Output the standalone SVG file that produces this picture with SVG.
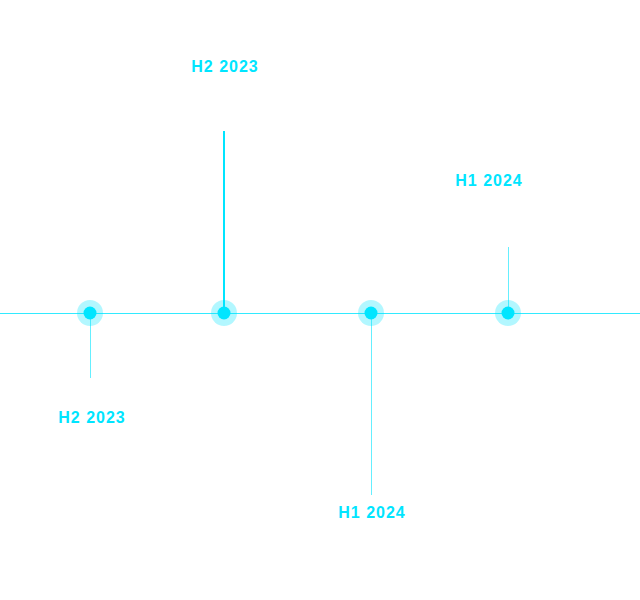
<svg xmlns="http://www.w3.org/2000/svg" width="640" height="600" viewBox="0 0 640 600">
<style>
.lbl{font-family:"Liberation Sans",Arial,sans-serif;font-weight:bold;font-size:16px;letter-spacing:1px;fill:#00E5FF;text-anchor:middle}
.halo{fill:#00E5FF;opacity:0.3}
.dot{fill:#00E5FF}
.stem{stroke:#00E5FF;stroke-width:1;opacity:0.6}
.stem2{stroke:#00E5FF;stroke-width:2}
</style>
<rect width="640" height="600" fill="#fff"/>
<g id="connectors">
<line x1="0" y1="313.5" x2="640" y2="313.5" stroke="#00E5FF" stroke-width="1" opacity="0.8"/>
<line class="stem" x1="90.5" y1="313" x2="90.5" y2="378"/>
<line class="stem2" x1="224" y1="313" x2="224" y2="131"/>
<line class="stem" x1="371.5" y1="313" x2="371.5" y2="495"/>
<line class="stem" x1="508.5" y1="313" x2="508.5" y2="247"/>
</g>
<g id="node1"><circle class="halo" cx="90" cy="313" r="13"/><circle class="dot" cx="90" cy="313" r="6.5"/><text class="lbl" x="92" y="423">H2 2023</text></g>
<g id="node2"><circle class="halo" cx="224" cy="313" r="13"/><circle class="dot" cx="224" cy="313" r="6.5"/><text class="lbl" x="225" y="72">H2 2023</text></g>
<g id="node3"><circle class="halo" cx="371" cy="313" r="13"/><circle class="dot" cx="371" cy="313" r="6.5"/><text class="lbl" x="372" y="518">H1 2024</text></g>
<g id="node4"><circle class="halo" cx="508" cy="313" r="13"/><circle class="dot" cx="508" cy="313" r="6.5"/><text class="lbl" x="489" y="186">H1 2024</text></g>
</svg>
